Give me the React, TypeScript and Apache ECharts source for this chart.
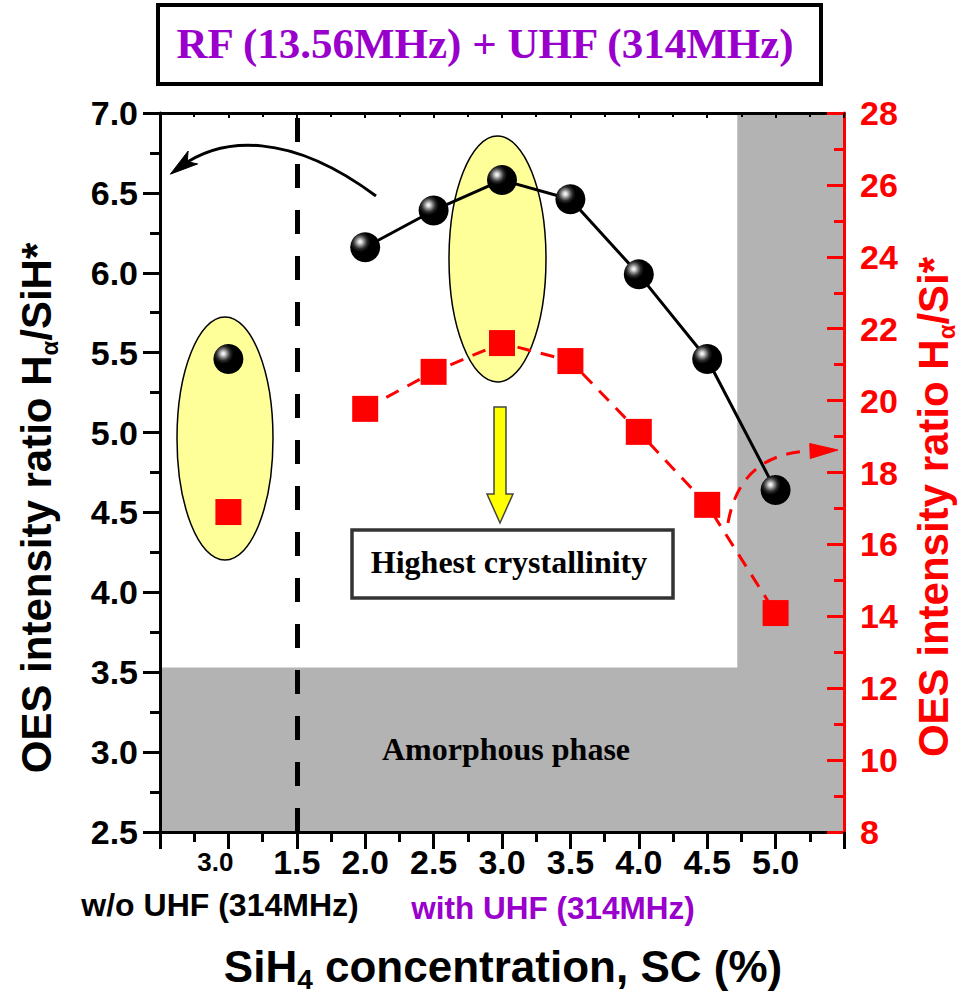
import { useEffect, useRef } from 'react';
import * as echarts from 'echarts';

// ---- data ----
const xWithUHF = [2.0, 2.5, 3.0, 3.5, 4.0, 4.5, 5.0];
const ratioHSiH = [6.16, 6.39, 6.58, 6.46, 5.99, 5.46, 4.64];
const ratioHSi = [19.77, 20.8, 21.6, 21.1, 19.13, 17.1, 14.09];
const xWithoutUHF = [1.0];
const ratioHSiHWo = [5.46];
const ratioHSiWo = [16.9];
const xTickValues = [1.0, 1.5, 2.0, 2.5, 3.0, 3.5, 4.0, 4.5, 5.0];
const xTickLabels = ['3.0', '1.5', '2.0', '2.5', '3.0', '3.5', '4.0', '4.5', '5.0'];
const amorphousTop = [3.53];
const grayRightStart = [4.72];
const dividerX = [1.5];

const SANS = "'Liberation Sans', Arial, Helvetica, sans-serif";
const SERIF = "'Liberation Serif', 'Times New Roman', serif";
const GRAY = '#b3b3b3';
const PURPLE = '#9900cc';

function zip(xs: number[], ys: number[]) {
  return xs.map((x, i) => [x, ys[i]]);
}

function arrowHead(tip: number[], from: number[], L: number, w: number, notch: number) {
  const dx = tip[0] - from[0];
  const dy = tip[1] - from[1];
  const len = Math.hypot(dx, dy);
  const ux = dx / len;
  const uy = dy / len;
  const nx = -uy;
  const ny = ux;
  const bx = tip[0] - L * ux;
  const by = tip[1] - L * uy;
  const pts = [tip, [bx + w * nx, by + w * ny]];
  if (notch > 0) pts.push([tip[0] - (L - notch) * ux, tip[1] - (L - notch) * uy]);
  pts.push([bx - w * nx, by - w * ny]);
  return pts;
}

const sphere = new echarts.graphic.RadialGradient(0.33, 0.32, 0.62, [
  { offset: 0, color: '#ffffff' },
  { offset: 0.1, color: '#d8d8d8' },
  { offset: 0.22, color: '#888888' },
  { offset: 0.38, color: '#2a2a2a' },
  { offset: 0.55, color: '#000000' },
  { offset: 1, color: '#000000' },
]);

export default function App() {
  const ref = useRef<HTMLDivElement>(null);

  useEffect(() => {
    if (!ref.current) return;
    const chart = echarts.init(ref.current, null, { renderer: 'svg' });

    const xLabelFormatter = (v: number) => {
      const i = xTickValues.findIndex((t) => Math.abs(t - v) < 1e-6);
      if (i < 0) return '';
      return i === 0 ? `{s|${xTickLabels[i]}}` : xTickLabels[i];
    };

    // annotation geometry (pixels)
    const blackCurve = { x1: 376, y1: 196, cpx1: 290, cpy1: 132, cpx2: 222, cpy2: 136, x2: 180, y2: 167 };
    const blackTipDir = [blackCurve.x2 - blackCurve.cpx2, blackCurve.y2 - blackCurve.cpy2];
    const bl = Math.hypot(blackTipDir[0], blackTipDir[1]);
    const blackTip = [blackCurve.x2 + (12 * blackTipDir[0]) / bl, blackCurve.y2 + (12 * blackTipDir[1]) / bl];

    const redCurve = { x1: 728, y1: 523, cpx1: 736, cpy1: 478, cpx2: 762, cpy2: 453, x2: 810, y2: 451 };
    const redTip = [838, 450];

    const option: any = {
      animation: false,
      backgroundColor: '#ffffff',
      grid: { left: 160, right: 129, top: 113, bottom: 175, containLabel: false },
      xAxis: [
        {
          type: 'value',
          position: 'bottom',
          min: 0.5,
          max: 5.5,
          interval: 0.5,
          z: 3,
          axisLine: { show: true, lineStyle: { color: '#000', width: 3 } },
          axisTick: { show: true, length: 17, lineStyle: { color: '#000', width: 3 } },
          minorTick: { show: true, splitNumber: 2, length: 10, lineStyle: { color: '#000', width: 3 } },
          splitLine: { show: false },
          axisLabel: {
            margin: 13,
            color: '#000',
            fontSize: 34,
            fontWeight: 'bold',
            fontFamily: SANS,
            formatter: xLabelFormatter,
            rich: {
              s: { fontSize: 26, fontWeight: 'bold', fontFamily: SANS, color: '#000', padding: [4, 26, 0, 0] },
            },
          },
        },
        {
          type: 'value',
          position: 'top',
          min: 0.5,
          max: 5.5,
          interval: 0.5,
          z: 3,
          axisLine: { show: true, lineStyle: { color: '#000', width: 3 } },
          axisTick: { show: true, inside: true, length: 5, lineStyle: { color: '#000', width: 2 } },
          minorTick: { show: true, splitNumber: 2, length: 4, lineStyle: { color: '#000', width: 2 } },
          splitLine: { show: false },
          axisLabel: { show: false },
        },
      ],
      yAxis: [
        {
          type: 'value',
          position: 'left',
          min: 2.5,
          max: 7.0,
          interval: 0.5,
          z: 3,
          axisLine: { show: true, lineStyle: { color: '#000', width: 3 } },
          axisTick: { show: true, length: 17, lineStyle: { color: '#000', width: 3 } },
          minorTick: { show: true, splitNumber: 2, length: 10, lineStyle: { color: '#000', width: 3 } },
          splitLine: { show: false },
          axisLabel: {
            margin: 22,
            color: '#000',
            fontSize: 34,
            fontWeight: 'bold',
            fontFamily: SANS,
            formatter: (v: number) => v.toFixed(1),
          },
        },
        {
          type: 'value',
          position: 'right',
          min: 8,
          max: 28,
          interval: 2,
          z: 3,
          axisLine: { show: true, lineStyle: { color: '#ff0000', width: 3 } },
          axisTick: { show: true, inside: true, length: 17, lineStyle: { color: '#ff0000', width: 3 } },
          minorTick: { show: true, splitNumber: 2, length: 10, lineStyle: { color: '#ff0000', width: 3 } },
          splitLine: { show: false },
          axisLabel: {
            margin: 16,
            color: '#ff0000',
            fontSize: 34,
            fontWeight: 'bold',
            fontFamily: SANS,
          },
        },
      ],
      series: [
        {
          name: 'Hα/SiH* without UHF',
          type: 'scatter',
          xAxisIndex: 0,
          yAxisIndex: 0,
          data: zip(xWithoutUHF, ratioHSiHWo),
          symbol: 'circle',
          symbolSize: 30,
          itemStyle: { color: sphere, opacity: 1 },
          emphasis: { disabled: true },
          z: 4,
          markArea: {
            silent: true,
            z: 1,
            itemStyle: { color: GRAY, opacity: 1 },
            data: [
              [
                { xAxis: 0.5, yAxis: 2.5 },
                { xAxis: 5.5, yAxis: amorphousTop[0] },
              ],
              [
                { xAxis: grayRightStart[0], yAxis: 2.5 },
                { xAxis: 5.5, yAxis: 7.0 },
              ],
            ],
          },
          markLine: {
            silent: true,
            symbol: 'none',
            label: { show: false },
            lineStyle: { color: '#000', width: 5, type: [24, 22], opacity: 1 },
            data: [{ xAxis: dividerX[0] }],
          },
        },
        {
          name: 'Hα/Si* without UHF',
          type: 'scatter',
          xAxisIndex: 0,
          yAxisIndex: 1,
          data: zip(xWithoutUHF, ratioHSiWo),
          symbol: 'rect',
          symbolSize: 26,
          itemStyle: { color: '#ff0000', opacity: 1 },
          emphasis: { disabled: true },
          z: 4,
        },
        {
          name: 'Hα/Si* with UHF',
          type: 'line',
          xAxisIndex: 0,
          yAxisIndex: 1,
          data: zip(xWithUHF, ratioHSi),
          symbol: 'rect',
          symbolSize: 26,
          showSymbol: true,
          itemStyle: { color: '#ff0000', opacity: 1 },
          lineStyle: { color: '#ff0000', width: 3, type: [14, 10] },
          emphasis: { disabled: true },
          z: 3,
        },
        {
          name: 'Hα/SiH* with UHF',
          type: 'line',
          xAxisIndex: 0,
          yAxisIndex: 0,
          data: zip(xWithUHF, ratioHSiH),
          symbol: 'circle',
          symbolSize: 30,
          showSymbol: true,
          itemStyle: { color: sphere, opacity: 1 },
          lineStyle: { color: '#000', width: 3 },
          emphasis: { disabled: true },
          z: 4,
        },
      ],
      graphic: [
        // title box
        {
          type: 'rect',
          z: 10,
          shape: { x: 158, y: 5, width: 663, height: 79 },
          style: { fill: '#fff', stroke: '#000', lineWidth: 4 },
        },
        {
          type: 'text',
          z: 11,
          x: 485,
          y: 43,
          style: {
            text: 'RF (13.56MHz) + UHF (314MHz)',
            fill: PURPLE,
            fontSize: 43,
            fontWeight: 'bold',
            fontFamily: SERIF,
            align: 'center',
            verticalAlign: 'middle',
          },
        },
        // ellipses
        {
          type: 'ellipse',
          z: 1,
          shape: { cx: 225, cy: 438.5, rx: 48, ry: 121.5 },
          style: { fill: '#ffff99', stroke: '#000', lineWidth: 1.5 },
        },
        {
          type: 'ellipse',
          z: 1,
          shape: { cx: 497.5, cy: 259, rx: 48.5, ry: 123 },
          style: { fill: '#ffff99', stroke: '#000', lineWidth: 1.5 },
        },
        // black curved arrow
        {
          type: 'bezierCurve',
          z: 5,
          shape: blackCurve,
          style: { fill: 'none', stroke: '#000', lineWidth: 3 },
        },
        {
          type: 'polygon',
          z: 5,
          shape: { points: arrowHead(blackTip, [blackCurve.cpx2, blackCurve.cpy2], 28, 8, 7) },
          style: { fill: '#000', stroke: '#000', lineWidth: 1 },
        },
        // red dashed curved arrow
        {
          type: 'bezierCurve',
          z: 5,
          shape: redCurve,
          style: { fill: 'none', stroke: '#ff0000', lineWidth: 3, lineDash: [14, 10] },
        },
        {
          type: 'polygon',
          z: 5,
          shape: { points: arrowHead(redTip, [redCurve.x2, redCurve.y2], 28, 7.5, 0) },
          style: { fill: '#ff0000', stroke: '#ff0000', lineWidth: 1 },
        },
        // yellow down arrow
        {
          type: 'polygon',
          z: 5,
          shape: {
            points: [
              [494, 407],
              [506, 407],
              [506, 494],
              [513, 494],
              [500, 523],
              [487, 494],
              [494, 494],
            ],
          },
          style: { fill: '#ffff00', stroke: '#444', lineWidth: 1.5 },
        },
        // highest crystallinity box
        {
          type: 'rect',
          z: 5,
          shape: { x: 352, y: 530, width: 321, height: 68 },
          style: { fill: '#fff', stroke: '#333', lineWidth: 3.5 },
        },
        {
          type: 'text',
          z: 6,
          x: 509,
          y: 562,
          style: {
            text: 'Highest crystallinity',
            fill: '#000',
            fontSize: 32,
            fontWeight: 'bold',
            fontFamily: SERIF,
            align: 'center',
            verticalAlign: 'middle',
          },
        },
        {
          type: 'text',
          z: 6,
          x: 506,
          y: 749,
          style: {
            text: 'Amorphous phase',
            fill: '#000',
            fontSize: 32,
            fontWeight: 'bold',
            fontFamily: SERIF,
            align: 'center',
            verticalAlign: 'middle',
          },
        },
        // group labels under x axis
        {
          type: 'text',
          z: 6,
          x: 220,
          y: 905,
          style: {
            text: 'w/o UHF (314MHz)',
            fill: '#000',
            fontSize: 32,
            fontWeight: 'bold',
            fontFamily: SANS,
            align: 'center',
            verticalAlign: 'middle',
          },
        },
        {
          type: 'text',
          z: 6,
          x: 553,
          y: 908,
          style: {
            text: 'with UHF (314MHz)',
            fill: PURPLE,
            fontSize: 31.5,
            fontWeight: 'bold',
            fontFamily: SANS,
            align: 'center',
            verticalAlign: 'middle',
          },
        },
        // axis titles
        {
          type: 'text',
          z: 6,
          x: 36,
          y: 508,
          rotation: Math.PI / 2,
          style: {
            text: '{a|OES intensity ratio H}{s|α}{a|/SiH*}',
            align: 'center',
            verticalAlign: 'middle',
            rich: {
              a: { fontSize: 42, fontWeight: 'bold', fontFamily: SANS, fill: '#000', color: '#000', lineHeight: 50 },
              s: { fontSize: 24, fontWeight: 'bold', fontFamily: SANS, fill: '#000', color: '#000', verticalAlign: 'bottom' },
            },
          },
        },
        {
          type: 'text',
          z: 6,
          x: 933,
          y: 507,
          rotation: Math.PI / 2,
          style: {
            text: '{a|OES intensity ratio H}{s|α}{a|/Si*}',
            align: 'center',
            verticalAlign: 'middle',
            rich: {
              a: { fontSize: 42, fontWeight: 'bold', fontFamily: SANS, fill: '#ff0000', color: '#ff0000', lineHeight: 50 },
              s: { fontSize: 24, fontWeight: 'bold', fontFamily: SANS, fill: '#ff0000', color: '#ff0000', verticalAlign: 'bottom' },
            },
          },
        },
        {
          type: 'text',
          z: 6,
          x: 503,
          y: 966,
          style: {
            text: '{a|SiH}{s|4}{a| concentration, SC (%)}',
            align: 'center',
            verticalAlign: 'middle',
            rich: {
              a: { fontSize: 44, fontWeight: 'bold', fontFamily: SANS, fill: '#000', color: '#000', lineHeight: 54 },
              s: { fontSize: 28, fontWeight: 'bold', fontFamily: SANS, fill: '#000', color: '#000', verticalAlign: 'bottom' },
            },
          },
        },
      ],
    };

    chart.setOption(option);
    return () => chart.dispose();
  }, []);

  return (
    <div
      ref={ref}
      style={{ position: 'fixed', left: 0, top: 0, width: 973, height: 1007, background: '#fff' }}
    />
  );
}
